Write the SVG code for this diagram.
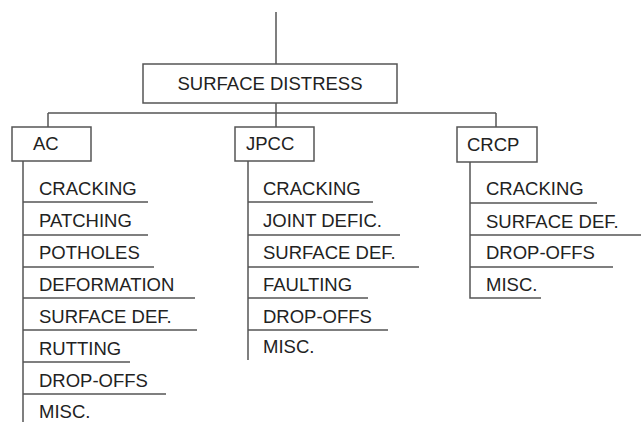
<svg xmlns="http://www.w3.org/2000/svg" width="641" height="422" viewBox="0 0 641 422">
<style>
.ln{stroke:#555;stroke-width:1.5;fill:none}
.bx{stroke:#555;stroke-width:1.5;fill:#fff}
text{font-family:"Liberation Sans",Arial,sans-serif;font-size:18.5px;fill:#222}
</style>
<rect width="641" height="422" fill="#fff"/>
<g id="connectors">
<path class="ln" d="M276 12V64M276 103V113M48 113H496M48 113V127M276 113V127M496 113V127"/>
<path class="ln" d="M23 161V422M23 202H148M23 235H148M23 267H154M23 298H195M23 330H197M23 362H130M23 394H166"/>
<path class="ln" d="M248 161V360M248 202H373M248 235H400M248 267H419M248 298H368M248 330H388"/>
<path class="ln" d="M470 162V298H541M470 203H597M470 235H641M470 267H613"/>
</g>
<g id="surface-distress"><rect class="bx" x="143" y="64" width="254" height="39"/><text x="270" y="90" text-anchor="middle">SURFACE DISTRESS</text></g>
<g id="ac"><rect class="bx" x="12" y="127" width="79" height="34"/><text x="33" y="150">AC</text></g>
<g id="jpcc"><rect class="bx" x="235" y="127" width="79" height="34"/><text x="246" y="150">JPCC</text></g>
<g id="crcp"><rect class="bx" x="457" y="127" width="80" height="35"/><text x="467" y="151">CRCP</text></g>
<g id="ac-items">
<text x="39" y="195">CRACKING</text>
<text x="39" y="227">PATCHING</text>
<text x="39" y="259">POTHOLES</text>
<text x="39" y="291">DEFORMATION</text>
<text x="39" y="323">SURFACE DEF.</text>
<text x="39" y="355">RUTTING</text>
<text x="39" y="387">DROP-OFFS</text>
<text x="39" y="418">MISC.</text>
</g>
<g id="jpcc-items">
<text x="263" y="195">CRACKING</text>
<text x="263" y="227">JOINT DEFIC.</text>
<text x="263" y="259">SURFACE DEF.</text>
<text x="263" y="291">FAULTING</text>
<text x="263" y="323">DROP-OFFS</text>
<text x="263" y="353">MISC.</text>
</g>
<g id="crcp-items">
<text x="486" y="195">CRACKING</text>
<text x="486" y="228">SURFACE DEF.</text>
<text x="486" y="259">DROP-OFFS</text>
<text x="486" y="291">MISC.</text>
</g>
</svg>
